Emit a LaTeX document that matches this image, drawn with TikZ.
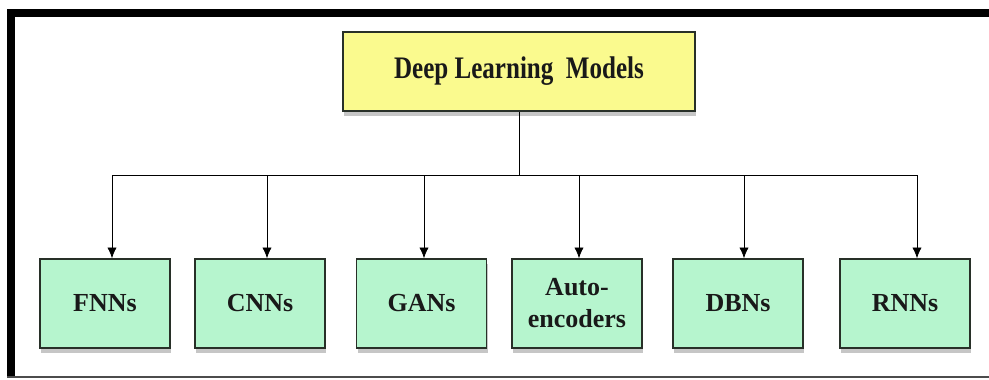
\documentclass[tikz,border=0pt]{standalone}
\usepackage{fontspec}
\setmainfont{Liberation Serif}
\newfontfamily\titlefont[FakeStretch=0.8]{Liberation Serif}
\usetikzlibrary{arrows.meta,shadows}

\definecolor{mintfill}{RGB}{182,245,206}
\definecolor{lemonfill}{RGB}{250,250,142}
\definecolor{boxline}{RGB}{40,48,40}

\tikzset{
  modelbox/.style={draw=boxline,line width=1.2pt,fill=mintfill,
    minimum width=97.5pt,minimum height=66.75pt,align=center,
    font=\fontsize{19.5}{24}\selectfont\bfseries,text=black!90,
    drop shadow={shadow xshift=1pt,shadow yshift=-3.5pt,opacity=0.45}},
  rootbox/.style={modelbox,fill=lemonfill,minimum width=264pt,minimum height=59.25pt,
    font=\titlefont\fontsize{23.5}{27}\selectfont\bfseries},
}

\begin{document}
\begin{tikzpicture}[x=0.75pt,y=-0.75pt,>={Latex[length=8pt,width=7pt]},semithick]

	% page and frame
	\useasboundingbox (0,0) rectangle (989,379);
	\fill [black] (7,9) rectangle (989,17);
	\fill [black] (7,9) rectangle (15,377);
	\draw [black!70,line width=1.2pt] (7,377) -- (989,377);

	% root
	\node [rootbox] (root) at (519,71.5) {Deep Learning\ \ Models};

	% models
	\node [modelbox] (fnn) at (105,303.5) {FNNs};
	\node [modelbox] (cnn) at (260,303.5) {CNNs};
	\node [modelbox] (gan) at (421.5,303.5) {GANs};
	\node [modelbox] (ae)  at (577,303.5) {Auto-\\encoders};
	\node [modelbox] (dbn) at (738,303.5) {DBNs};
	\node [modelbox] (rnn) at (905,303.5) {RNNs};

	% tree lines
	\coordinate (bus) at (519,175);
	\draw (root) -- (bus);
	\foreach \n/\dx in {fnn/7, cnn/7, gan/2.5, ae/2, dbn/6, rnn/12}
		\draw [->] (bus) -| ([xshift=\dx*0.75pt]\n.north);

\end{tikzpicture}
\end{document}
